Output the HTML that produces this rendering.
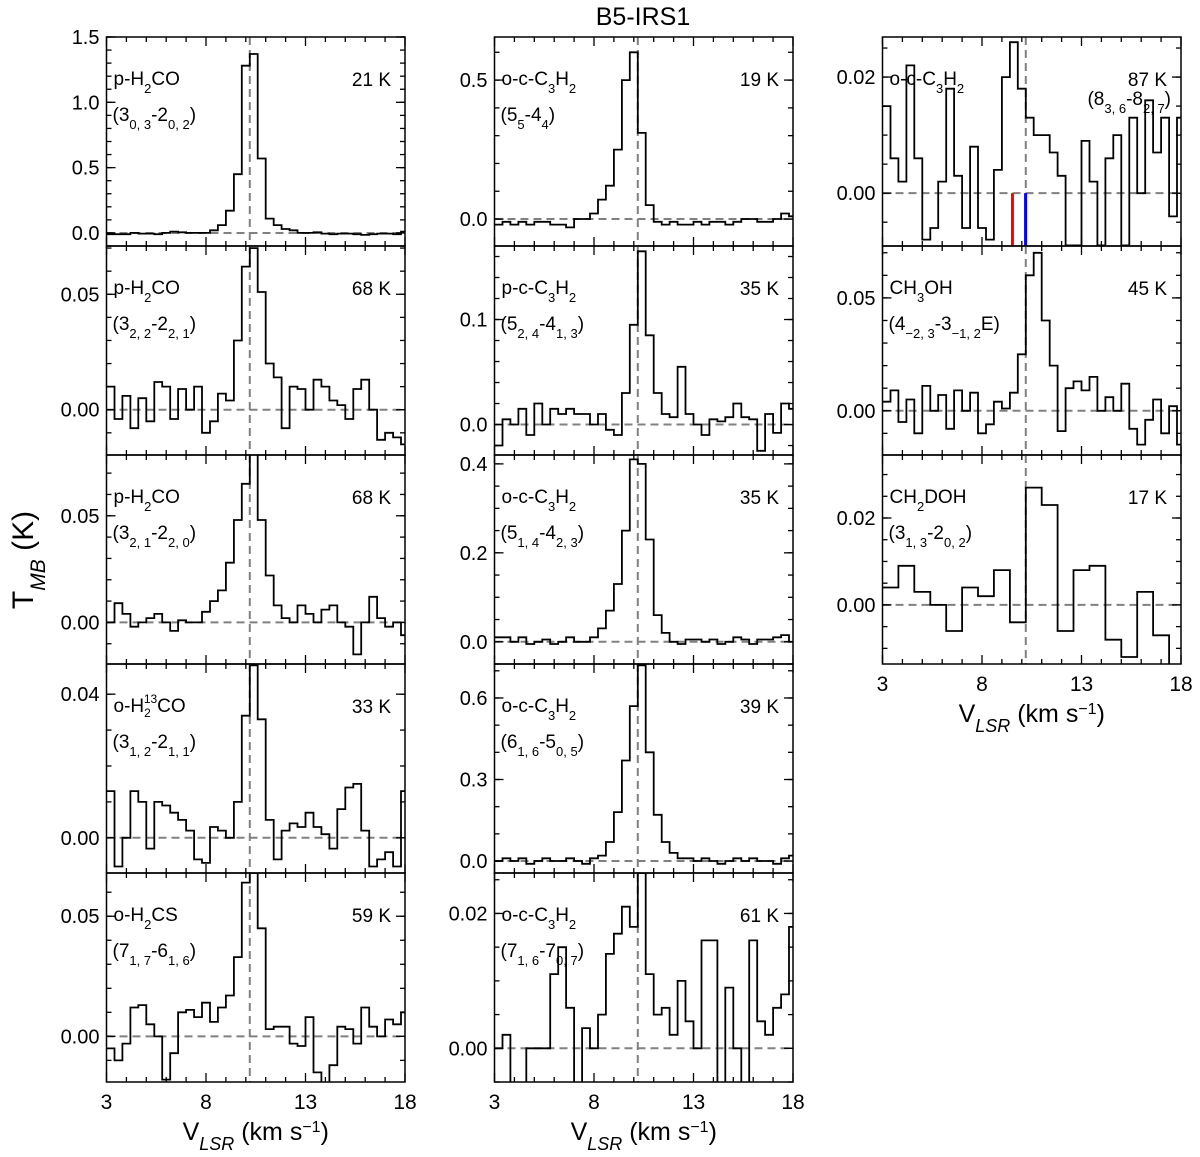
<!DOCTYPE html>
<html><head><meta charset="utf-8"><style>
body{margin:0;background:#fff}
svg{display:block;font-family:"Liberation Sans","DejaVu Sans",sans-serif}
</style></head><body>
<svg id="fig" width="1200" height="1157" viewBox="0 0 1200 1157"></svg>
<script>
// ---- data (bins of width dv starting at velStart km/s) ----
const velStart = 3.0;
const xTicks = [3, 8, 13, 18];
const L1 = [-0.01,-0.01,-0.01,0,-0.005,-0.005,-0.01,0,0.01,0.005,0,0,0,0.02,0.06,0.17,0.45,1.28,1.37,0.57,0.11,0.06,0.03,0.02,0,0,0.005,-0.005,-0.01,-0.005,-0.005,-0.01,-0.015,-0.01,-0.005,-0.005,-0.01,0.01];
const L2 = [0.01,-0.004,0.006,-0.008,0.005,-0.005,0.012,0.01,-0.004,0.009,0,0.01,-0.01,-0.005,0.007,0.004,0.03,0.062,0.07,0.051,0.02,0.014,-0.008,0.01,0.009,0,0.013,0.01,0.004,0.002,-0.004,0.009,0.013,0,-0.013,-0.01,-0.012,-0.015];
const L3 = [0,0.009,0.004,-0.002,0,0.002,0.004,0,-0.004,0.001,0,0,0.005,0.01,0.015,0.028,0.048,0.065,0.08,0.048,0.022,0.008,0.002,0,0.008,0.004,0,0.006,0.008,0,-0.002,-0.015,0,0.012,0.002,-0.002,0,-0.006];
const L4 = [0.013,-0.008,0,0.013,0.01,-0.003,0.01,0.009,0.007,0.005,0.002,-0.006,-0.007,0.003,0.002,0,0.01,0.034,0.048,0.033,0.005,-0.006,0.002,0.004,0.003,0.007,0.003,0.001,-0.003,0.008,0.014,0.015,0.002,-0.008,-0.006,-0.004,-0.008,0.013];
const L5 = [-0.005,-0.01,-0.003,0.012,0.013,0.005,0,-0.018,-0.007,0.01,0.011,0.008,0.014,0.006,0.012,0.017,0.033,0.064,0.068,0.045,0.003,0.004,0.004,-0.003,-0.004,0.008,-0.015,-0.02,-0.012,0.004,0.003,-0.003,0.012,0.004,0,0.007,0.005,0.01];
const M1 = [-0.02,-0.01,-0.02,-0.01,-0.02,-0.01,-0.01,-0.02,-0.02,-0.03,0,0,0.02,0.07,0.12,0.25,0.5,0.6,0.31,0.05,-0.01,-0.02,-0.01,-0.02,-0.02,-0.01,-0.02,-0.01,-0.01,-0.02,-0.01,0,0,-0.01,-0.01,0,0.02,0.01];
const M2 = [-0.02,0.005,0,0.015,-0.01,0.02,0,0.015,0.01,0.015,0.01,0.01,0,0.01,-0.005,-0.01,0.03,0.095,0.165,0.085,0.03,0.01,0.007,0.055,0.01,0,-0.01,0.005,0.003,0.007,0.02,0.007,0.005,-0.025,0.01,-0.008,0.02,0.015];
const M3 = [0.01,0.01,0,0.01,-0.005,0,0.005,-0.005,0,0.01,0,0,0.01,0.03,0.07,0.13,0.25,0.41,0.4,0.23,0.06,0.02,0,-0.005,0.005,0.005,0,0.005,-0.005,0,0.01,0.005,-0.005,0.005,0.005,0.01,0.015,0];
const M4 = [0,0.01,0,0.01,-0.01,0,0.01,0,0,0.01,0,-0.01,0.01,0.02,0.07,0.18,0.37,0.57,0.72,0.4,0.17,0.07,0.03,0.01,0.01,0,0.01,0,-0.01,0,0.01,0,0.01,0,0,-0.01,0.01,0.02];
const M5 = [0,0.002,-0.006,-0.006,0,0,0,0.011,0.015,0.006,-0.006,0.003,0,0.005,0.014,0.017,0.021,0.018,0.026,0.011,0.005,0.006,0.002,0.01,0.004,0,0.016,0.016,-0.006,0.009,0,-0.006,0.016,0.004,0.002,0.006,0.008,0.018];
const R1 = [0.015,0.006,0.002,0.022,0.006,-0.008,-0.006,0.002,0.018,0.003,-0.006,0.008,-0.006,-0.008,0.004,0.02,0.026,0.018,0.013,0.01,0.01,0.007,0.003,-0.009,-0.009,0.009,0.002,-0.009,0.006,0.01,-0.009,0.013,0,0.016,0.007,0.013,-0.004,0.013];
const R2 = [0.004,0.009,-0.005,0.005,-0.01,0.011,0,0.007,-0.008,0.009,0,0.008,-0.01,-0.006,0.004,0.001,0.008,0.025,0.06,0.07,0.04,0.02,-0.009,0.01,0.013,0.009,0.015,0,0.006,0,0.012,-0.008,-0.015,-0.004,0.005,-0.01,0.002,-0.015];
const R3 = [0.004,0.009,0.003,0,-0.006,0.004,0.002,0.008,-0.004,0.027,0.023,-0.006,0.008,0.009,-0.008,-0.012,0.003,-0.007,-0.02];
const vSys = 10.2;
const redLine = 9.53, blueLine = 10.19;

const NS = "http://www.w3.org/2000/svg";
const svg = document.getElementById('fig');
function el(tag, attrs, parent){ const e=document.createElementNS(NS,tag); for(const k in attrs) e.setAttribute(k,attrs[k]); (parent||svg).appendChild(e); return e; }

const cols = [106.5, 494.5, 882.5];
const colW = 298.5;
const rows = [37, 246, 455, 664, 873, 1082];
const S = s => '<tspan baseline-shift="sub" font-size="13">'+s+'</tspan>';

const panels = [
 {id:'p-h2co-303',c:0,r:0,d:L1,dv:0.4,y0:-0.1,y1:1.5,maj:[0,0.5,1.0,1.5],lab:['0.0','0.5','1.0','1.5'],mn:0.1,m:'p-H'+S('2')+'CO',t:'(3'+S('0, 3')+'-2'+S('0, 2')+')',K:'21 K'},
 {id:'p-h2co-322',c:0,r:1,d:L2,dv:0.4,y0:-0.0196,y1:0.0709,maj:[0,0.05],lab:['0.00','0.05'],mn:0.01,m:'p-H'+S('2')+'CO',t:'(3'+S('2, 2')+'-2'+S('2, 1')+')',K:'68 K'},
 {id:'p-h2co-321',c:0,r:2,d:L3,dv:0.4,y0:-0.0195,y1:0.0785,maj:[0,0.05],lab:['0.00','0.05'],mn:0.01,m:'p-H'+S('2')+'CO',t:'(3'+S('2, 1')+'-2'+S('2, 0')+')',K:'68 K'},
 {id:'o-h213co',c:0,r:3,d:L4,dv:0.4,y0:-0.0098,y1:0.0484,maj:[0,0.04],lab:['0.00','0.04'],mn:0.01,m:'o-H<tspan dy="5" font-size="12">2</tspan><tspan dx="-7" dy="-14" font-size="12">13</tspan><tspan dy="9">CO</tspan>',t:'(3'+S('1, 2')+'-2'+S('1, 1')+')',K:'33 K'},
 {id:'o-h2cs',c:0,r:4,d:L5,dv:0.4,y0:-0.019,y1:0.068,maj:[0,0.05],lab:['0.00','0.05'],mn:0.01,m:'o-H'+S('2')+'CS',t:'(7'+S('1, 7')+'-6'+S('1, 6')+')',K:'59 K'},
 {id:'o-c3h2-55',c:1,r:0,d:M1,dv:0.4,y0:-0.097,y1:0.655,maj:[0,0.5],lab:['0.0','0.5'],mn:0.1,m:'o-c-C'+S('3')+'H'+S('2'),t:'(5'+S('5')+'-4'+S('4')+')',K:'19 K'},
 {id:'p-c3h2-524',c:1,r:1,d:M2,dv:0.4,y0:-0.029,y1:0.17,maj:[0,0.1],lab:['0.0','0.1'],mn:0.02,m:'p-c-C'+S('3')+'H'+S('2'),t:'(5'+S('2, 4')+'-4'+S('1, 3')+')',K:'35 K'},
 {id:'o-c3h2-514',c:1,r:2,d:M3,dv:0.4,y0:-0.05,y1:0.42,maj:[0,0.2,0.4],lab:['0.0','0.2','0.4'],mn:0.05,m:'o-c-C'+S('3')+'H'+S('2'),t:'(5'+S('1, 4')+'-4'+S('2, 3')+')',K:'35 K'},
 {id:'o-c3h2-616',c:1,r:3,d:M4,dv:0.4,y0:-0.044,y1:0.725,maj:[0,0.3,0.6],lab:['0.0','0.3','0.6'],mn:0.1,m:'o-c-C'+S('3')+'H'+S('2'),t:'(6'+S('1, 6')+'-5'+S('0, 5')+')',K:'39 K'},
 {id:'o-c3h2-716',c:1,r:4,d:M5,dv:0.4,y0:-0.005,y1:0.026,maj:[0,0.02],lab:['0.00','0.02'],mn:0.005,m:'o-c-C'+S('3')+'H'+S('2'),t:'(7'+S('1, 6')+'-7'+S('0, 7')+')',K:'61 K'},
 {id:'o-c3h2-836',c:2,r:0,d:R1,dv:0.4,y0:-0.0091,y1:0.0269,maj:[0,0.02],lab:['0.00','0.02'],mn:0.005,m:'o-c-C'+S('3')+'H'+S('2'),t:'(8'+S('3, 6')+'-8'+S('2, 7')+')',K:'87 K',tRight:true},
 {id:'ch3oh',c:2,r:1,d:R2,dv:0.4,y0:-0.0196,y1:0.073,maj:[0,0.05],lab:['0.00','0.05'],mn:0.01,m:'CH'+S('3')+'OH',t:'(4'+S('−2, 3')+'-3'+S('−1, 2')+'E)',K:'45 K'},
 {id:'ch2doh',c:2,r:2,d:R3,dv:0.8,y0:-0.0136,y1:0.0345,maj:[0,0.02],lab:['0.00','0.02'],mn:0.005,m:'CH'+S('2')+'DOH',t:'(3'+S('1, 3')+'-2'+S('0, 2')+')',K:'17 K'}
];
const bottomRow = [4,4,2];

panels.forEach((p,i)=>{
  const L=cols[p.c], R=L+colW, T=rows[p.r], B=rows[p.r+1];
  const xs=v=>L+(v-3)/15*colW;
  const ys=y=>B-(y-p.y0)/(p.y1-p.y0)*(B-T);
  const g=el('g',{});
  
  
  const cp=el('clipPath',{id:'cp'+i},g); el('rect',{x:L,y:T,width:colW,height:B-T},cp);
  const z=el('line',{x1:L,x2:R,y1:ys(0),y2:ys(0),stroke:'#808080','stroke-width':2,'stroke-dasharray':'8,5'},g);
  
  
  const vl=el('line',{x1:xs(vSys),x2:xs(vSys),y1:T,y2:B,stroke:'#808080','stroke-width':2,'stroke-dasharray':'8,5'},g);
  
  
  let d='';
  p.d.forEach((y,k)=>{const a=xs(velStart+k*p.dv), b=xs(velStart+(k+1)*p.dv), yy=ys(y); d+=(k===0?'M':'L')+a.toFixed(1)+','+yy.toFixed(1)+'H'+b.toFixed(1);});
  const sp=el('path',{d:d,fill:'none',stroke:'#000','stroke-width':1.8,'clip-path':'url(#cp'+i+')'},g);
  
  
  if(p.id==='o-c3h2-836'){
    const rl=el('line',{x1:xs(redLine),x2:xs(redLine),y1:ys(0),y2:B,stroke:'#f00','stroke-width':3},g);
    
    
    const bl=el('line',{x1:xs(blueLine),x2:xs(blueLine),y1:ys(0),y2:B,stroke:'#00f','stroke-width':3},g);
    
    
  }
  const fr=el('rect',{x:L,y:T,width:colW,height:B-T,fill:'none',stroke:'#000','stroke-width':1.5},g);
  
  
  for(let v=3;v<=18;v++){const x=xs(v), len=(v-3)%5===0?9:5;
    el('line',{x1:x,x2:x,y1:B,y2:B-len,stroke:'#000','stroke-width':1.3},g);
    el('line',{x1:x,x2:x,y1:T,y2:T+len,stroke:'#000','stroke-width':1.3},g);}
  const n0=Math.ceil(p.y0/p.mn-1e-6), n1=Math.floor(p.y1/p.mn+1e-6);
  for(let n=n0;n<=n1;n++){const y=ys(n*p.mn);
    el('line',{x1:L,x2:L+5,y1:y,y2:y,stroke:'#000','stroke-width':1.3},g);
    el('line',{x1:R,x2:R-5,y1:y,y2:y,stroke:'#000','stroke-width':1.3},g);}
  p.maj.forEach((v,k)=>{const y=ys(v);
    el('line',{x1:L,x2:L+9,y1:y,y2:y,stroke:'#000','stroke-width':1.3},g);
    el('line',{x1:R,x2:R-9,y1:y,y2:y,stroke:'#000','stroke-width':1.3},g);
    const t=el('text',{x:L-7,y:y+7,'text-anchor':'end','font-size':20},g); t.textContent=p.lab[k];
    
    });
  if(p.r===bottomRow[p.c]){ xTicks.forEach(v=>{const t=el('text',{x:xs(v),y:B+27,'text-anchor':'middle','font-size':21},g); t.textContent=v;
    
    });
    const xt=el('text',{x:L+colW/2,y:B+58,'text-anchor':'middle','font-size':25},g);
    xt.innerHTML='V<tspan baseline-shift="sub" font-size="18" font-style="italic">LSR</tspan> (km s<tspan baseline-shift="super" font-size="16">−1</tspan>)';
    
    }
  const ml=el('text',{x:L+7,y:T+48,'font-size':19},g); ml.innerHTML=p.m;
  
  
  const tl=p.tRight?el('text',{x:R-10,y:T+68,'font-size':19,'text-anchor':'end'},g):el('text',{x:L+6,y:T+84,'font-size':19},g);
  tl.innerHTML=p.t;
  
  
  const kl=el('text',{x:R-14,y:T+49,'font-size':19,'text-anchor':'end'},g); kl.textContent=p.K;
  
  
});
const title=el('text',{x:643,y:25,'text-anchor':'middle','font-size':25});
title.textContent='B5-IRS1';


const yt=el('text',{x:0,y:0,'text-anchor':'middle','font-size':30,transform:'translate(33,560) rotate(-90)'});
yt.innerHTML='T<tspan baseline-shift="sub" font-size="21" font-style="italic">MB</tspan> (K)';


</script>
</body></html>
